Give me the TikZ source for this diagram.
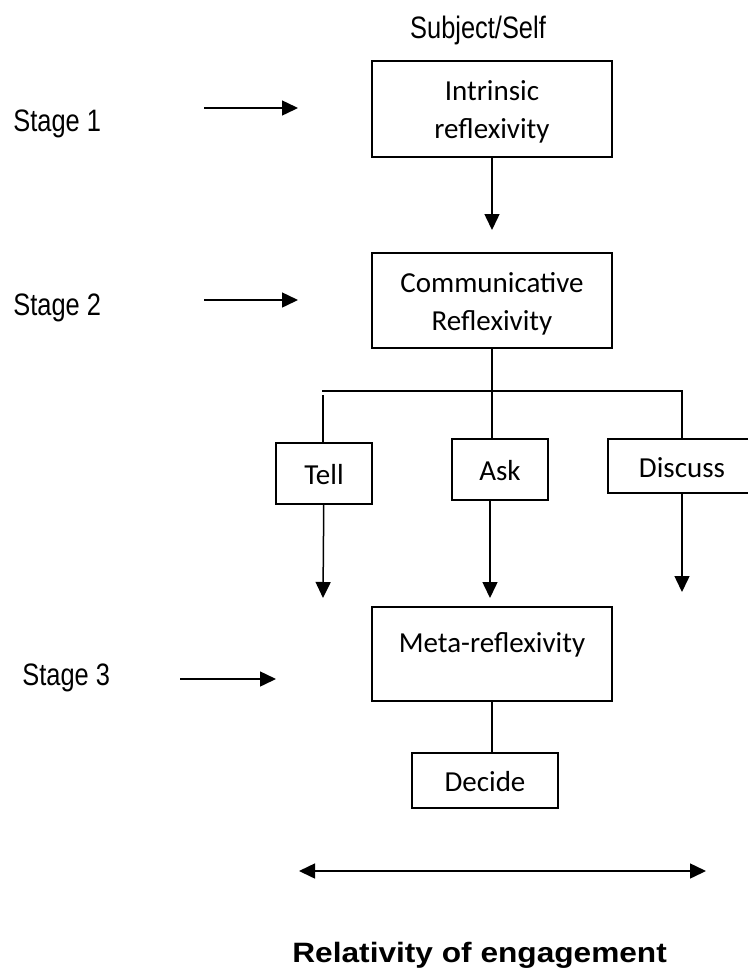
\documentclass[tikz,border=0pt]{standalone}
\usepackage{fontspec}
\usepackage{tikz}
\usetikzlibrary{arrows.meta}
\newfontfamily\narrowfont[FakeStretch=0.82]{Liberation Sans}
\newfontfamily\boxfont{Carlito}
\newfontfamily\engfont[FakeStretch=1.13]{Liberation Sans}

\begin{document}
\begin{tikzpicture}[x=0.5pt, y=-0.5pt,
		box/.style={draw, line width=1.2pt, inner sep=0pt, align=center,
			font=\boxfont\fontsize{14.5pt}{19pt}\selectfont, text height=11pt, text depth=0pt},
		twoline/.style={text height=30pt, text depth=0.5pt},
		conn/.style={line width=0.75pt},
		arr/.style={conn, -{Triangle[length=8pt, width=7.5pt]}},
		stage/.style={anchor=base west, inner sep=0pt, font=\narrowfont\fontsize{15.5pt}{18pt}\selectfont}]
		%%%%% START %%%%%
		
		\useasboundingbox (0, 0) rectangle (748, 970);
		
		\node[stage, anchor=base] (subj) at (478, 38) {Subject/Self};
		\node[stage] (s1) at (13, 131) {Stage 1};
		\node[stage] (s2) at (13, 315) {Stage 2};
		\node[stage] (s3) at (22, 685) {Stage 3};
		
		\node[box, twoline, minimum width=120pt, minimum height=48pt] (intr) at (492, 109) {Intrinsic\\reflexivity};
		\node[box, twoline, minimum width=120pt, minimum height=47.5pt] (comm) at (492, 300.5) {Communicative\\Reflexivity};
		\node[box, minimum width=48pt, minimum height=30.5pt] (tell) at (324, 473.5) {Tell};
		\node[box, minimum width=48pt, minimum height=30.5pt] (ask) at (500, 469.5) {Ask};
		\node[box, minimum width=74pt, minimum height=27pt] (disc) at (682, 466) {Discuss};
		\node[box, text height=10pt, text depth=12pt, minimum width=120pt, minimum height=47pt] (meta) at (492, 654) {Meta-reflexivity};
		\node[box, minimum width=73pt, minimum height=27.5pt] (dec) at (485, 780.5) {Decide};
		
		\node[anchor=base west, inner sep=0pt, font=\engfont\bfseries\fontsize{14pt}{17pt}\selectfont] (eng) at (292, 962) {Relativity of engagement};
		
		\coordinate (a1) at (204, 108);
		\coordinate (b1) at (298, 108);
		\coordinate (a2) at (204, 300);
		\coordinate (b2) at (298, 300);
		\coordinate (a3) at (180, 679);
		\coordinate (b3) at (276, 679);
		\draw[arr] (a1) -- (b1);
		\draw[arr] (a2) -- (b2);
		\draw[arr] (a3) -- (b3);
		
		\coordinate (tipI) at (492, 230);
		\draw[arr] (intr) -- (tipI);
		
		\coordinate (split) at (492, 391);
		\coordinate (splitL) at (322, 391);
		\coordinate (splitR) at (682, 391);
		\coordinate (dropL) at (323, 395);
		\draw[conn] (comm) -- (split);
		\draw[conn] (splitL) -- (splitR) -- (disc);
		\draw[conn] (split) -- (split |- ask.north);
		\draw[conn] (dropL) -- (dropL |- tell.north);
		
		\coordinate (tipT) at (323, 598);
		\coordinate (tipK) at (490, 598);
		\coordinate (tipD) at (682, 592);
		\draw[arr] (tell) -- (tipT);
		\draw[arr] (ask.south -| tipK) -- (tipK);
		\draw[arr] (disc) -- (tipD);
		
		\draw[conn] (meta.south -| split) -- (dec.north -| split);
		
		\coordinate (engL) at (299, 871);
		\coordinate (engR) at (706, 871);
		\draw[conn, {Triangle[length=8pt, width=7.5pt]}-{Triangle[length=8pt, width=7.5pt]}] (engL) -- (engR);
		
		%%%%% END %%%%%
	\end{tikzpicture}
\end{document}
